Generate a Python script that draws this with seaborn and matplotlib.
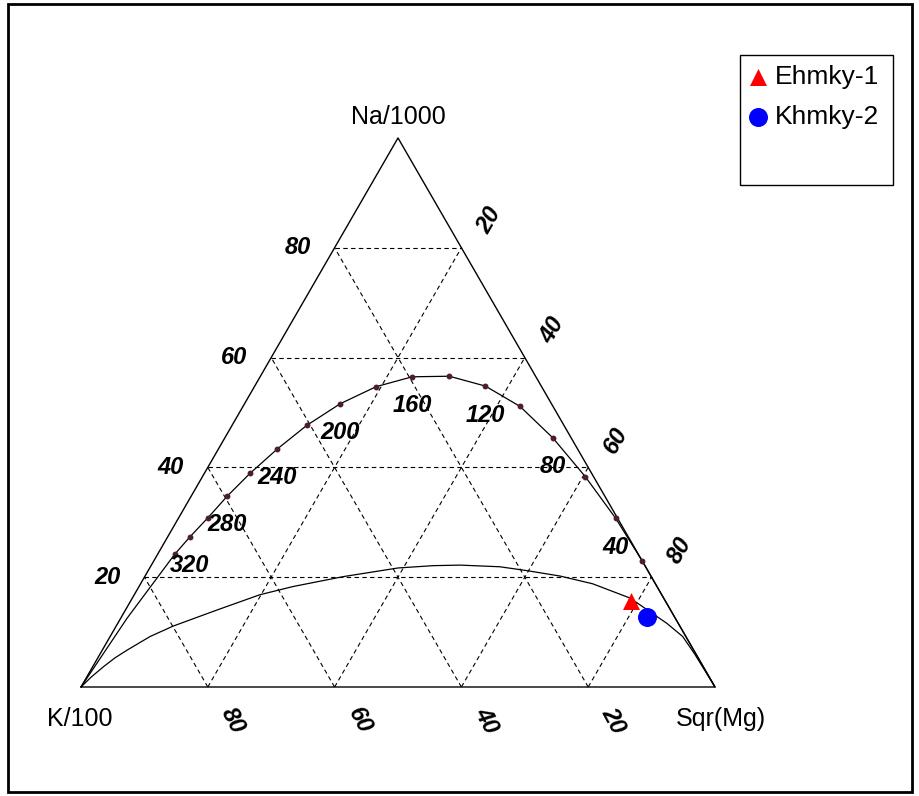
import numpy as np
import pandas as pd
import matplotlib
matplotlib.use("Agg")
import matplotlib.pyplot as plt
from matplotlib.patches import Rectangle
import seaborn as sns

sns.set_style("white")
plt.rcParams['font.family'] = ['Liberation Sans', 'DejaVu Sans']
plt.rcParams['text.color'] = 'black'

# Ternary components (percent): Na/1000, K/100, Sqr(Mg)
# Full-equilibrium curve, dots every 20 °C
eq_temp = [340, 320, 300, 280, 260, 240, 220, 200, 180, 160, 140, 120, 100, 80, 60, 40, 20]
eq_na = [24.2, 27.3, 30.8, 34.8, 38.9, 43.4, 47.7, 51.6, 54.7, 56.5, 56.6, 54.8, 51.1, 45.4, 38.3, 30.7, 22.9]
eq_k = [73.1, 69.1, 64.6, 59.5, 53.9, 47.4, 40.6, 33.3, 26.1, 19.5, 13.6, 8.8, 5.2, 2.9, 1.3, 0.3, 0.0]
eq_mg = [2.7, 3.5, 4.6, 5.7, 7.2, 9.3, 11.8, 15.1, 19.2, 24.0, 29.8, 36.4, 43.7, 51.7, 60.4, 69.0, 77.1]
labelled_temp = [320, 280, 240, 200, 160, 120, 80, 40]

# Ends of the full-equilibrium curve beyond the dotted range
eq_hot_na, eq_hot_k, eq_hot_mg = [0.0, 12.5], [100.0, 86.5], [0.0, 1.0]
eq_cold_na, eq_cold_k, eq_cold_mg = [15.5], [0.0], [84.5]

# Partial-equilibrium (immature waters) boundary
pe_na = [0.0, 1.8, 3.7, 5.3, 6.7, 9.2, 11.1, 14.0, 16.8, 18.3, 20.1, 21.7, 22.1, 22.2, 21.9, 21.2, 20.2, 18.8, 16.2, 11.6, 9.2, 6.0, 0.0]
pe_k = [100.0, 97.5, 94.6, 92.0, 89.4, 84.5, 79.9, 71.6, 63.4, 57.4, 48.6, 39.2, 33.4, 29.1, 23.0, 19.1, 14.3, 9.9, 5.3, 1.8, 0.5, 0.2, 0.0]
pe_mg = [0.0, 0.7, 1.7, 2.7, 3.9, 6.3, 9.0, 14.4, 19.8, 24.3, 31.3, 39.2, 44.5, 48.7, 55.1, 59.7, 65.5, 71.3, 78.5, 86.6, 90.3, 93.8, 100.0]

# Water samples
sample_names = ['Ehmky-1', 'Khmky-2']
sample_na = [15.6, 12.7]
sample_k = [5.4, 4.3]
sample_mg = [79.0, 83.0]

grid_levels = [20, 40, 60, 80]

H = np.sqrt(3) / 2


def to_xy(na, k, mg):
    na, k, mg = (np.asarray(v, dtype=float) for v in (na, k, mg))
    tot = na + k + mg
    a, c = na / tot, mg / tot
    return c + a / 2, a * H


fig = plt.figure(figsize=(9.2, 7.96), dpi=100)
ax = fig.add_axes([0, 0, 1, 1])
ax.set_xlim(-81 / 634, 839 / 634)
ax.set_ylim(-109 / 634, 687 / 634)
ax.axis('off')

# triangle outline
tx, ty = to_xy([0, 0, 100, 0], [100, 0, 0, 100], [0, 100, 0, 0])
ax.plot(tx, ty, color='black', lw=1.0, zorder=2)

# dashed grid
dash = dict(color='black', lw=0.8, linestyle=(0, (4, 3)), zorder=1)
for v in grid_levels:
    x, y = to_xy([v, v], [100 - v, 0], [0, 100 - v])
    ax.plot(x, y, **dash)
    x, y = to_xy([0, 100 - v], [v, v], [100 - v, 0])
    ax.plot(x, y, **dash)
    x, y = to_xy([0, 100 - v], [100 - v, 0], [v, v])
    ax.plot(x, y, **dash)

# full-equilibrium curve
cx, cy = to_xy(eq_hot_na + eq_na + eq_cold_na + [0.0],
               eq_hot_k + eq_k + eq_cold_k + [0.0],
               eq_hot_mg + eq_mg + eq_cold_mg + [100.0])
sns.lineplot(x=cx, y=cy, sort=False, estimator=None, color='black', lw=0.9, ax=ax, zorder=3)
dx, dy = to_xy(eq_na, eq_k, eq_mg)
sns.scatterplot(x=dx, y=dy, color='#4d1f2a', s=18, linewidth=0, ax=ax, zorder=4)
for t, x, y in zip(eq_temp, dx, dy):
    if t in labelled_temp:
        ax.annotate(str(t), (x, y), xytext=(0, -29), textcoords='offset pixels',
                    ha='center', va='center', fontsize=17, fontweight='bold',
                    fontstyle='italic', zorder=5)

# partial-equilibrium curve
px_, py_ = to_xy(pe_na, pe_k, pe_mg)
sns.lineplot(x=px_, y=py_, sort=False, estimator=None, color='black', lw=0.9, ax=ax, zorder=3)

# samples
samples = pd.DataFrame({'name': sample_names, 'Na': sample_na, 'K': sample_k, 'Mg': sample_mg})
samples['x'], samples['y'] = to_xy(samples['Na'], samples['K'], samples['Mg'])
sns.scatterplot(data=samples.iloc[[0]], x='x', y='y', marker='^', color='red', s=150,
                linewidth=0, label=sample_names[0], ax=ax, zorder=6)
sns.scatterplot(data=samples.iloc[[1]], x='x', y='y', marker='o', color='blue', s=187,
                linewidth=0, label=sample_names[1], ax=ax, zorder=6)

# scale labels on each side
tick_font = dict(fontsize=17, fontweight='bold', fontstyle='italic', ha='center', va='center')
for v in grid_levels:
    x, y = to_xy([v], [100 - v], [0])
    ax.annotate(str(v), (x[0], y[0]), xytext=(-37, 0), textcoords='offset pixels', **tick_font)
    x, y = to_xy([100 - v], [0], [v])
    ax.annotate(str(v), (x[0], y[0]), xytext=(28, 27), textcoords='offset pixels',
                rotation=60, **tick_font)
    x, y = to_xy([0], [v], [100 - v])
    ax.annotate(str(v), (x[0], y[0]), xytext=(25, -34), textcoords='offset pixels',
                rotation=-62, **tick_font)

# apex titles
title_font = dict(fontsize=18, ha='center', va='center')
ax.annotate('Na/1000', (0.5, H), xytext=(0, 21), textcoords='offset pixels', **title_font)
ax.annotate('K/100', (0, 0), xytext=(-1, -32), textcoords='offset pixels', **title_font)
ax.annotate('Sqr(Mg)', (1, 0), xytext=(6, -32), textcoords='offset pixels', **title_font)

# legend and its box
fw, fh = 920, 796
leg = ax.legend(loc='upper left', bbox_to_anchor=(746 / fw, 1 - 65 / fh),
                bbox_transform=fig.transFigure, frameon=False, fontsize=19,
                borderpad=0, handlelength=0.9, handletextpad=0.2, labelspacing=0.62,
                borderaxespad=0)
fig.add_artist(Rectangle((740 / fw, 1 - 185 / fh), 153 / fw, 130 / fh,
                         transform=fig.transFigure, fill=False, edgecolor='black', lw=1.0))

# outer frame
fig.add_artist(Rectangle((8 / fw, 1 - 792 / fh), 904 / fw, 788 / fh,
                         transform=fig.transFigure, fill=False, edgecolor='black', lw=2.0))

fig.savefig('out.png', dpi=100)
